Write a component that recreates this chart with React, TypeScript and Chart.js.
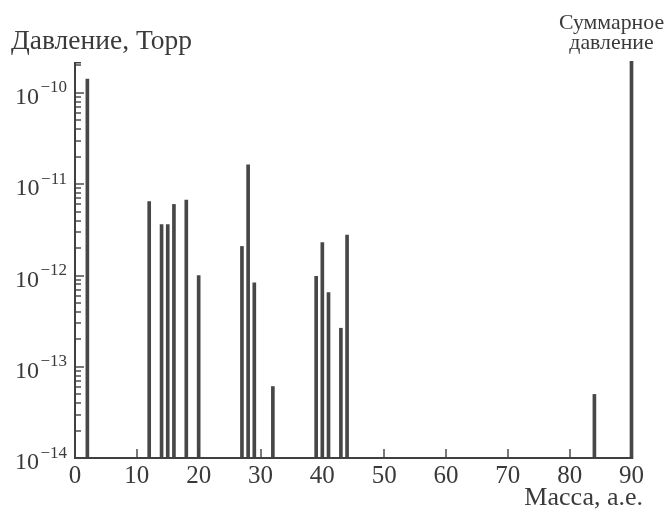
import React, { useEffect, useRef } from 'react';
import { Chart, registerables } from 'chart.js';

Chart.register(...registerables);

// Mass numbers (a.m.u.) of the peaks
const masses = [2, 12, 14, 15, 16, 18, 20, 27, 28, 29, 32, 39, 40, 41, 43, 44, 84, 90];
// Partial pressures, Torr (90 = total pressure)
const pressures = [
  1.41e-10, 6.45e-12, 3.6e-12, 3.6e-12, 6.0e-12, 6.7e-12, 1.0e-12, 2.08e-12, 1.63e-11,
  8.3e-13, 6.1e-14, 9.8e-13, 2.3e-12, 6.5e-13, 2.65e-13, 2.77e-12, 5.0e-14, 2.2e-10,
];
const xTicks = [0, 10, 20, 30, 40, 50, 60, 70, 80, 90];
const yDecades = [-14, -13, -12, -11, -10];
const yMantissas = [1, 2, 3, 4, 5, 6, 7, 8, 9];
const yTitle = 'Давление, Торр';
const xTitle = 'Масса, а.е.';
const totalLabel = ['Суммарное', 'давление'];

const Y_MIN = 1e-14;
const Y_MAX = 2.1e-10;
const INK = '#3a3a3a';
const SERIF = '"Liberation Serif", "Times New Roman", serif';

const paperAxes = {
  id: 'paperAxes',
  afterDraw(chart: any) {
    const { ctx, chartArea, scales } = chart;
    const { left, right, top, bottom } = chartArea;
    const x = scales.x;
    const y = scales.y;
    ctx.save();
    ctx.fillStyle = '#404040';
    const L = Math.round(left) - 1;
    const B = Math.round(bottom);
    // axis lines
    ctx.fillRect(L, Math.round(top) - 1, 2, B - Math.round(top) + 2);
    ctx.fillRect(L, B - 1, Math.round(right) - L + 1, 2);
    ctx.fillRect(L, Math.round(top) - 1, 7, 1.5);

    // y ticks (log major + minor), pointing inward
    for (const e of yDecades) {
      for (const m of yMantissas) {
        const v = m * Math.pow(10, e);
        if (v > Y_MAX * 1.0001) continue;
        const py = Math.round(y.getPixelForValue(v));
        const len = m === 1 ? 10 : 7;
        ctx.fillRect(L, py - 0.7, len, 1.4);
      }
    }
    // x ticks pointing up
    for (const t of xTicks) {
      if (t === 0 || t === 90) continue;
      const px = Math.round(x.getPixelForValue(t));
      ctx.fillRect(px - 0.7, B - 9, 1.4, 9);
    }

    // y labels 10^e
    ctx.fillStyle = INK;
    ctx.textBaseline = 'alphabetic';
    ctx.textAlign = 'right';
    for (const e of yDecades) {
      const py = y.getPixelForValue(Math.pow(10, e));
      const sup = '\u2212' + Math.abs(e);
      ctx.font = `17px ${SERIF}`;
      const supRight = left - 8;
      const supW = ctx.measureText(sup).width;
      ctx.fillText(sup, supRight, py - 0.5);
      ctx.font = `24px ${SERIF}`;
      ctx.fillText('10', supRight - supW - 1.5, py + 11);
    }

    // x labels
    ctx.font = `25px ${SERIF}`;
    ctx.textAlign = 'center';
    for (const t of xTicks) {
      const px = x.getPixelForValue(t);
      ctx.fillText(String(t), px, bottom + 25);
    }

    // titles
    ctx.font = `27.5px ${SERIF}`;
    ctx.textAlign = 'left';
    ctx.fillText(yTitle, 11, 49);
    ctx.font = `26px ${SERIF}`;
    ctx.textAlign = 'right';
    ctx.fillText(xTitle, 643, 505);
    ctx.font = `21.8px ${SERIF}`;
    ctx.textAlign = 'center';
    ctx.fillText(totalLabel[0], 611.5, 29);
    ctx.fillText(totalLabel[1], 611.5, 49);
    ctx.restore();
  },
};

export default function App() {
  const ref = useRef<HTMLCanvasElement | null>(null);
  useEffect(() => {
    if (!ref.current) return;
    const chart = new Chart(ref.current, {
      type: 'bar',
      data: {
        datasets: [
          {
            data: masses.map((m, i) => ({ x: m, y: pressures[i] })),
            backgroundColor: '#474747',
            borderWidth: 0,
            barThickness: 3,
            clip: false as any,
          } as any,
        ],
      },
      options: {
        responsive: false,
        animation: false,
        events: [],
        layout: { padding: { left: 75, right: 36.5, top: 63.3, bottom: 56.7 } },
        plugins: { legend: { display: false }, tooltip: { enabled: false } },
        scales: {
          x: { type: 'linear', min: 0, max: 90, offset: false, display: false },
          y: { type: 'logarithmic', min: Y_MIN, max: Y_MAX, display: false },
        },
      },
      plugins: [paperAxes],
    });
    return () => chart.destroy();
  }, []);
  return (
    <div style={{ position: 'fixed', left: 0, top: 0, width: 668, height: 515, background: '#fff' }}>
      <canvas ref={ref} width={668} height={515} style={{ width: 668, height: 515 }} />
    </div>
  );
}
